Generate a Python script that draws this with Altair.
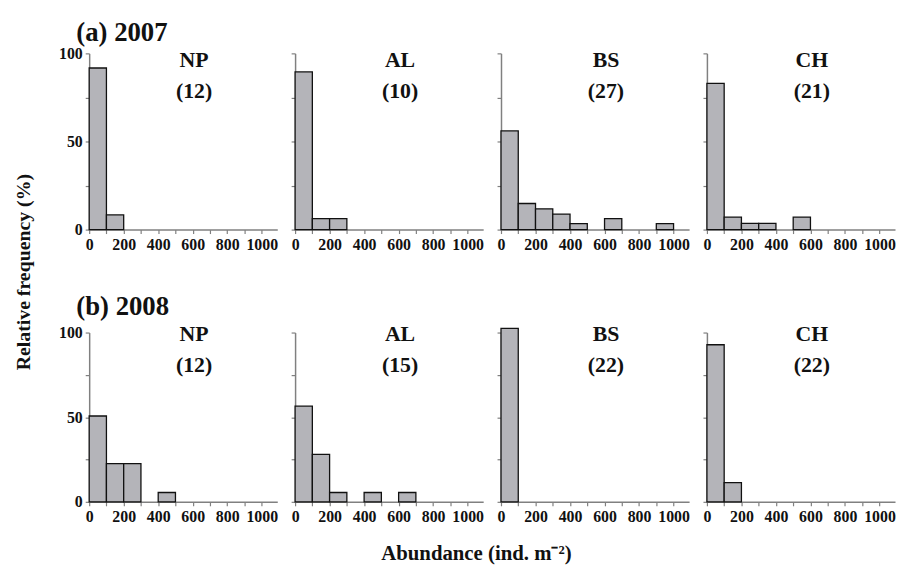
import altair as alt
import pandas as pd

sites = ["NP", "AL", "BS", "CH"]
years = ["(a) 2007", "(b) 2008"]
n_2007 = [12, 10, 27, 21]
n_2008 = [12, 15, 22, 22]
bin_starts = [0, 100, 200, 300, 400, 500, 600, 700, 800, 900]
bin_width = 100

# relative frequency (%) per abundance class (ind. m-2)
freq_2007 = {
    "NP": [91.7, 8.3, 0, 0, 0, 0, 0, 0, 0, 0],
    "AL": [89.5, 6.2, 6.2, 0, 0, 0, 0, 0, 0, 0],
    "BS": [56.0, 14.8, 11.8, 8.8, 3.4, 0, 6.2, 0, 0, 3.4],
    "CH": [83.0, 7.1, 3.5, 3.5, 0, 7.1, 0, 0, 0, 0],
}
freq_2008 = {
    "NP": [50.7, 22.6, 22.6, 0, 5.5, 0, 0, 0, 0, 0],
    "AL": [56.5, 28.0, 5.5, 0, 5.5, 0, 5.5, 0, 0, 0],
    "BS": [102.5, 0, 0, 0, 0, 0, 0, 0, 0, 0],
    "CH": [92.8, 11.3, 0, 0, 0, 0, 0, 0, 0, 0],
}

x_ticks = list(range(0, 1001, 100))
y_ticks = [0, 25, 50, 75, 100]

FONT = "Liberation Serif"
W = 190
HEIGHTS = [178, 171]
NAME_Y = [13.5, 8.5]
N_Y = [45, 40]
ROW_TITLE_OFFSET = [-2, 2]


def panel(row, col):
    site = sites[col]
    freqs = (freq_2007 if row == 0 else freq_2008)[site]
    n = (n_2007 if row == 0 else n_2008)[col]
    df = pd.DataFrame({
        "start": bin_starts,
        "end": [b + bin_width for b in bin_starts],
        "freq": freqs,
    })
    df = df[df["freq"] > 0]
    lab = pd.DataFrame({"site": [site], "n": [f"({n})"]})

    xax = alt.Axis(values=x_ticks, title=None, format="d",
                   labelExpr="datum.value % 200 == 0 ? datum.label : ''",
                   labelFlush=False)
    yax = alt.Axis(values=y_ticks, title=None, labels=(col == 0), format="d",
                   labelExpr="datum.value % 50 == 0 ? datum.label : ''")

    bars = alt.Chart(df).mark_bar(
        fill="#b4b4b9", stroke="#111111", strokeWidth=1.3
    ).encode(
        x=alt.X("start:Q", scale=alt.Scale(domain=[0, 1090], nice=False), axis=xax),
        x2="end:Q",
        y=alt.Y("freq:Q", scale=alt.Scale(domain=[0, 100], nice=False), axis=yax),
        y2=alt.datum(0),
    )
    tstyle = dict(font=FONT, fontWeight="bold", fontSize=22, align="center",
                  baseline="alphabetic", color="#111111")
    name = alt.Chart(lab).mark_text(**tstyle).encode(
        x=alt.value(106), y=alt.value(NAME_Y[row]), text="site:N"
    )
    count = alt.Chart(lab).mark_text(**tstyle).encode(
        x=alt.value(106), y=alt.value(N_Y[row]), text="n:N"
    )
    return alt.layer(bars, name, count).properties(width=W, height=HEIGHTS[row])


rows = []
for r in range(2):
    rows.append(
        alt.hconcat(*[panel(r, c) for c in range(4)], spacing=12).properties(
            title=alt.Title(years[r], anchor="start", font=FONT, fontSize=27,
                            fontWeight="bold", color="#111111", dx=18,
                            offset=ROW_TITLE_OFFSET[r])
        )
    )

grid = alt.vconcat(*rows, spacing=41).properties(
    title=alt.Title("Relative frequency (%)", orient="left", anchor="middle",
                    font=FONT, fontSize=20, fontWeight="bold", color="#111111",
                    offset=25)
)

chart = alt.vconcat(grid).properties(
    title=alt.Title("Abundance (ind. m⁻²)", orient="bottom", anchor="middle",
                    font=FONT, fontSize=21, fontWeight="bold", color="#111111",
                    offset=19, dx=22),
    padding={"top": 9, "left": 5, "right": 0, "bottom": 0},
).configure_view(strokeWidth=0).configure_axis(
    domainColor="#808080", tickColor="#808080", domainWidth=1.5, tickWidth=1.2,
    tickSize=4, grid=False, labelFont=FONT, labelFontSize=16,
    labelFontWeight="bold", labelColor="#111111", labelPadding=3,
)

chart.save("out.html", embed_options={"renderer": "svg", "actions": False})
